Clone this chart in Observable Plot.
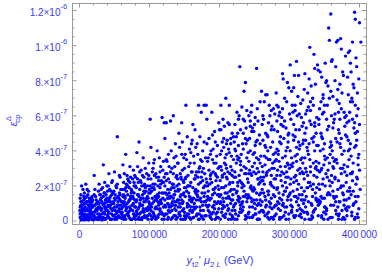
<!DOCTYPE html>
<html><head><meta charset="utf-8">
<script src="https://cdn.jsdelivr.net/npm/d3@7"></script>
<script src="https://cdn.jsdelivr.net/npm/@observablehq/plot@0.6"></script>
<style>body{margin:0;background:#fff}svg{display:block}</style>
</head><body><div id="c"></div><script>
// points: [x in thousands of GeV, y in units of 1e-8]
const band0 = [[1,2],[3,5],[2,9],[5,1],[6,12],[8,4],[4,7],[9,10],[11,2],[12,6],[10,14],[13,9],[15,3],[14,11],[16,7],[18,1],[17,13],[19,5],[7,16],[3,20],[1,13],[2,0.5],[6,3],[8,8],[10,0.8],[12,15],[14,1.5],[16,10],[18,8],[20,3],[5,18],[9,21],[13,17],[19,12],[0.5,6],[4,3],[7,10],[11,11],[15,6],[17,4],[20,9],[2,15],[6,7],[9,1],[12,3],[14,8],[16,2],[18,11],[3,11],[10,6],[1,8],[5,4],[8,13],[13,0.5],[15,12],[17,9],[19,1],[11,18],[4,0.8],[7,2]];
const band1 = [[21,3],[22,9],[23,14],[24,1],[25,6],[26,11],[27,17],[28,4],[29,8],[30,2],[31,13],[32,7],[33,19],[34,32],[35,5],[36,10],[37,1],[38,15],[39,8],[40,3],[21,26],[22,18],[24,12],[26,4],[27,0.8],[28,21],[29,15],[31,6],[32,11],[33,2],[34,9],[35,16],[36,4],[37,12],[38,1.5],[39,20],[23,6],[25,10],[27,8],[30,12],[32,0.5],[34,14],[36,22],[38,6],[40,11],[21,15],[24,7],[26,2],[29,3],[31,18],[33,10],[35,1],[37,7],[39,13],[22,5],[28,10],[30,7],[36,16],[40,17]];
const band2 = [[41,4],[42,12],[43,18],[44,1],[45,7],[46,15],[47,23],[48,3],[49,10],[50,28],[51,6],[52,13],[53,19],[54,48],[55,2],[56,9],[57,16],[58,25],[59,5],[60,11],[41,20],[42,2],[43,8],[44,14],[45,0.8],[46,22],[47,6],[48,11],[49,17],[50,1],[51,12],[52,4],[53,8],[54,21],[55,14],[56,3],[57,7],[58,12],[59,18],[60,1.5],[42,27],[44,9],[46,4],[48,16],[50,8],[52,20],[54,5],[56,13],[58,2],[60,7],[43,13],[45,17],[47,10],[49,3],[51,15],[53,1],[55,11],[57,26],[59,9],[41,9]];
const band3 = [[61,5],[62,14],[63,22],[64,2],[65,9],[66,38],[67,17],[68,26],[69,4],[70,11],[71,19],[72,31],[73,7],[74,13],[75,1],[76,24],[77,10],[78,16],[79,3],[80,20],[61,18],[62,8],[63,1],[64,27],[65,13],[66,6],[67,21],[68,10],[69,15],[70,3],[71,8],[72,12],[73,25],[74,0.8],[75,17],[76,6],[77,29],[78,2],[79,12],[80,8],[62,32],[64,11],[66,19],[68,4],[70,23],[72,6],[74,18],[76,14],[78,22],[80,1],[61,11],[63,15],[65,3],[67,8],[69,20],[71,2],[73,14],[75,9],[77,4],[79,26]];
const band4 = [[81,3],[82,12],[83,24],[84,7],[85,45],[86,18],[87,1],[88,29],[89,9],[90,15],[91,36],[92,5],[93,21],[94,11],[95,2],[96,27],[97,14],[98,8],[99,33],[100,4],[81,19],[82,6],[83,31],[84,15],[85,2],[86,10],[87,23],[88,13],[89,0.8],[90,26],[91,7],[92,17],[93,3],[94,30],[95,12],[96,6],[97,20],[98,1],[99,16],[100,10],[82,39],[84,22],[86,28],[88,5],[90,9],[92,25],[94,19],[96,13],[98,24],[100,18],[81,11],[83,4],[85,14],[87,9],[89,20],[91,13],[93,16],[95,7],[97,3],[99,11]];
const band5 = [[101,58],[102,6],[103,17],[104,28],[105,2],[106,11],[107,35],[108,21],[109,8],[110,14],[111,40],[112,3],[113,25],[114,10],[115,19],[116,31],[117,5],[118,59],[119,13],[120,22],[101,9],[102,24],[103,1],[104,13],[105,30],[106,4],[107,18],[108,7],[109,27],[110,2],[111,15],[112,20],[113,9],[114,36],[115,6],[116,12],[117,23],[118,1],[119,29],[120,8],[102,42],[104,19],[106,33],[108,14],[110,25],[112,11],[114,4],[116,21],[118,16],[120,34],[101,16],[103,8],[105,21],[107,3],[109,12],[111,7],[113,14],[115,28],[117,10],[119,4]];
const band6 = [[121,56],[122,12],[123,27],[124,56],[125,4],[126,18],[127,38],[128,9],[129,22],[130,57],[131,14],[132,30],[133,2],[134,60],[135,19],[136,7],[137,44],[138,25],[139,11],[140,33],[121,3],[122,20],[123,8],[124,35],[125,15],[126,1],[127,24],[128,16],[129,5],[130,28],[131,40],[132,10],[133,21],[134,13],[135,3],[136,31],[137,17],[138,6],[139,26],[140,12],[122,47],[124,23],[126,10],[128,31],[130,8],[132,19],[134,27],[136,15],[138,37],[140,2],[121,25],[123,16],[125,34],[127,6],[129,13],[131,1],[133,11],[135,36],[137,9],[139,20]];
const band7 = [[141,8],[142,21],[143,42],[144,3],[145,15],[146,56],[147,29],[148,11],[149,36],[150,5],[151,24],[152,66],[153,17],[154,48],[155,9],[156,31],[157,2],[158,20],[159,39],[160,13],[141,33],[142,4],[143,18],[144,27],[145,1],[146,12],[147,45],[148,23],[149,7],[150,30],[151,14],[152,2],[153,35],[154,10],[155,26],[156,16],[157,41],[158,6],[159,22],[160,28],[142,50],[144,14],[146,38],[148,1],[150,19],[152,25],[154,4],[156,9],[158,33],[160,44],[141,18],[143,10],[145,24],[147,6],[149,16],[151,38],[153,3],[155,20],[157,12],[159,8]];
const band8 = [[161,5],[162,19],[163,37],[164,10],[165,52],[166,26],[167,3],[168,44],[169,14],[170,66],[171,30],[172,8],[173,22],[174,62],[175,16],[176,40],[177,1],[178,66],[179,27],[180,11],[161,46],[162,2],[163,13],[164,33],[165,7],[166,18],[167,28],[168,4],[169,38],[170,21],[171,12],[172,48],[173,6],[174,25],[175,34],[176,9],[177,19],[178,14],[179,3],[180,36],[162,55],[164,24],[166,42],[168,15],[170,1],[172,31],[174,11],[176,23],[178,45],[180,20],[161,28],[163,8],[165,17],[167,12],[169,25],[171,4],[173,35],[175,2],[177,30],[179,16]];
const band9 = [[181,66],[182,12],[183,34],[184,6],[185,47],[186,21],[187,2],[188,40],[189,62],[190,15],[191,28],[192,9],[193,51],[194,19],[195,4],[196,37],[197,25],[198,11],[199,56],[200,31],[181,24],[182,44],[183,8],[184,17],[185,29],[186,3],[187,38],[188,13],[189,22],[190,49],[191,5],[192,33],[193,16],[194,1],[195,26],[196,10],[197,43],[198,20],[199,7],[200,14],[182,58],[184,36],[186,12],[188,27],[190,35],[192,18],[194,45],[196,2],[198,30],[200,52],[181,9],[183,20],[185,13],[187,24],[189,4],[191,41],[193,7],[195,33],[197,15],[199,18]];
const band10 = [[201,10],[202,66],[203,29],[204,45],[205,3],[206,19],[207,54],[208,36],[209,70],[210,13],[211,24],[212,6],[213,41],[214,66],[215,17],[216,31],[217,1],[218,50],[219,22],[220,8],[201,38],[202,15],[203,5],[204,25],[205,58],[206,11],[207,33],[208,2],[209,20],[210,44],[211,9],[212,28],[213,14],[214,39],[215,4],[216,47],[217,18],[218,26],[219,12],[220,35],[202,52],[204,7],[206,42],[208,16],[210,30],[212,56],[214,21],[216,10],[218,3],[220,48],[201,23],[203,40],[205,13],[207,8],[209,32],[211,46],[213,1],[215,27],[217,37],[219,15]];
const band11 = [[221,18],[222,55],[223,4],[224,33],[225,62],[226,12],[227,43],[228,26],[229,88],[230,7],[231,38],[232,65],[233,21],[234,50],[235,74],[236,14],[237,79],[238,30],[239,2],[240,46],[221,9],[222,28],[223,40],[224,16],[225,1],[226,35],[227,58],[228,11],[229,23],[230,52],[231,5],[232,19],[233,44],[234,8],[235,31],[236,57],[237,3],[238,15],[239,36],[240,24],[222,6],[224,48],[226,20],[228,60],[230,32],[232,10],[234,41],[236,27],[238,53],[240,13],[221,45],[223,25],[225,37],[227,14],[229,5],[231,22],[233,11],[235,17],[237,47],[239,63]];
const band12 = [[241,22],[242,60],[243,8],[244,40],[245,13],[246,66],[247,31],[248,3],[249,51],[250,18],[251,43],[252,27],[253,87],[254,9],[255,57],[256,35],[257,15],[258,68],[259,25],[260,74],[241,4],[242,34],[243,47],[244,19],[245,62],[246,11],[247,2],[248,38],[249,28],[250,55],[251,7],[252,45],[253,16],[254,30],[255,1],[256,21],[257,49],[258,12],[259,37],[260,6],[242,14],[244,54],[246,26],[248,17],[250,33],[252,4],[254,64],[256,10],[258,44],[260,23],[241,39],[243,29],[245,20],[247,53],[249,12],[251,59],[253,36],[255,24],[257,5],[259,16]];
const band13 = [[261,11],[262,46],[263,25],[264,68],[265,3],[266,72],[267,36],[268,72],[269,17],[270,56],[271,29],[272,8],[273,42],[274,63],[275,20],[276,33],[277,1],[278,52],[279,14],[280,39],[261,31],[262,6],[263,58],[264,21],[265,43],[266,12],[267,27],[268,4],[269,48],[270,15],[271,66],[272,35],[273,10],[274,26],[275,54],[276,2],[277,38],[278,19],[279,61],[280,9],[262,23],[264,37],[266,50],[268,28],[270,5],[272,60],[274,13],[276,45],[278,8],[280,24],[261,55],[263,16],[265,32],[267,9],[269,40],[271,1],[273,22],[275,30],[277,64],[279,34]];
const band14 = [[281,73],[282,18],[283,51],[284,7],[285,34],[286,62],[287,26],[288,44],[289,12],[290,84],[291,81],[292,3],[293,57],[294,22],[295,40],[296,68],[297,79],[298,14],[299,76],[300,30],[281,9],[282,41],[283,29],[284,65],[285,16],[286,2],[287,48],[288,23],[289,59],[290,36],[291,10],[292,27],[293,70],[294,5],[295,53],[296,19],[297,33],[298,45],[299,4],[300,61],[282,66],[284,38],[286,13],[288,55],[290,20],[292,47],[294,31],[296,8],[298,25],[300,15],[281,35],[283,11],[285,60],[287,6],[289,28],[291,54],[293,17],[295,1],[297,42],[299,50]];
const band15 = [[301,89],[302,24],[303,74],[304,8],[305,49],[306,76],[307,83],[308,37],[309,14],[310,91],[311,60],[312,29],[313,83],[314,3],[315,43],[316,67],[317,19],[318,54],[319,33],[320,10],[301,40],[302,58],[303,5],[304,31],[305,17],[306,46],[307,2],[308,63],[309,26],[310,11],[311,38],[312,71],[313,21],[314,52],[315,7],[316,35],[317,59],[318,15],[319,44],[320,27],[302,9],[304,66],[306,22],[308,48],[310,34],[312,13],[314,41],[316,4],[318,28],[320,56],[301,16],[303,36],[305,62],[307,25],[309,52],[311,6],[313,45],[315,30],[317,12],[319,69]];
const band16 = [[321,75],[322,12],[323,46],[324,28],[325,63],[326,4],[327,38],[328,81],[329,99],[330,20],[331,55],[332,9],[333,70],[334,33],[335,95],[336,87],[337,16],[338,50],[339,25],[340,89],[321,5],[322,36],[323,61],[324,14],[325,42],[326,73],[327,22],[328,1],[329,57],[330,31],[331,10],[332,47],[333,18],[334,66],[335,6],[336,40],[337,78],[338,13],[339,59],[340,29],[322,84],[324,53],[326,26],[328,44],[330,68],[332,3],[334,21],[336,56],[338,34],[340,11],[321,24],[323,8],[325,19],[327,65],[329,35],[331,77],[333,2],[335,48],[337,30],[339,43]];
const band17 = [[341,86],[342,33],[343,64],[344,11],[345,50],[346,82],[347,21],[348,72],[349,5],[350,44],[351,90],[352,27],[353,58],[354,15],[355,77],[356,110],[357,103],[358,38],[359,118],[360,91],[341,9],[342,55],[343,18],[344,40],[345,68],[346,3],[347,47],[348,24],[349,62],[350,13],[351,35],[352,79],[353,7],[354,52],[355,29],[356,16],[357,70],[358,2],[359,45],[360,60],[342,12],[344,85],[346,30],[348,41],[350,66],[352,4],[354,36],[356,54],[358,20],[360,26],[341,43],[343,28],[345,14],[347,61],[349,32],[351,8],[353,80],[355,1],[357,23],[359,74]];
const band18 = [[361,92],[362,17],[363,56],[364,34],[365,80],[366,6],[367,102],[368,45],[369,103],[370,23],[371,67],[372,11],[373,104],[374,98],[375,38],[376,85],[377,2],[378,62],[379,28],[380,49],[361,40],[362,71],[363,9],[364,58],[365,25],[366,88],[367,14],[368,33],[369,75],[370,52],[371,4],[372,44],[373,19],[374,64],[375,1],[376,30],[377,83],[378,12],[379,54],[380,7],[362,36],[364,13],[366,47],[368,69],[370,3],[372,78],[374,27],[376,16],[378,40],[380,94],[361,22],[363,30],[365,61],[367,35],[369,8],[371,50],[373,42],[375,73],[377,20],[379,59]];
const band19 = [[381,60],[382,26],[383,82],[384,96],[385,8],[386,97],[387,44],[388,15],[389,70],[390,102],[391,33],[392,53],[393,119],[394,115],[395,21],[396,88],[397,4],[398,64],[399,38],[400,113],[381,12],[382,48],[383,31],[384,72],[385,57],[386,19],[387,90],[388,37],[389,3],[390,58],[391,78],[392,10],[393,42],[394,66],[395,93],[396,25],[397,51],[398,14],[399,81],[400,29],[382,6],[384,40],[386,62],[388,85],[390,23],[392,76],[394,2],[396,46],[398,32],[400,55],[402,102],[401,18],[383,17],[385,35],[387,68],[389,27],[391,9],[393,56],[395,43],[397,73]];
// extra points in the dense lower strip
const lowLeft = [[1,4],[2,11],[3,1],[4,9],[5,6],[6,14],[7,0.5],[8,6],[9,3],[10,11],[11,7],[12,1],[13,4],[14,13],[15,9],[16,5],[17,1],[18,14],[19,8],[20,0.5],[22,2],[24,10],[26,7],[28,1],[30,15],[32,4],[34,2],[36,8],[38,11],[40,6],[42,5],[44,11],[46,1],[48,7],[50,13],[52,2],[54,9],[56,6],[58,15],[60,4]];
const lowMid = [[62,3],[64,18],[67,7],[69,24],[71,12],[73,1],[76,9],[78,20],[81,5],[83,15],[85,8],[88,22],[90,2],[92,11],[95,17],[97,6],[99,26],[102,3],[104,10],[106,19],[109,1],[111,13],[113,23],[115,7],[118,4],[120,16],[122,9],[125,27],[127,2],[129,14],[132,6],[134,21],[136,11],[138,1],[141,17],[143,5],[145,25],[147,10],[150,3],[152,19],[154,8],[157,14],[159,1],[63,10],[66,1],[70,5],[74,16],[77,13],[80,25],[84,1],[87,12],[91,6],[94,2],[98,13],[101,20],[105,5],[108,12],[112,2],[116,11],[119,22],[123,4],[126,13],[130,18],[133,9],[137,3],[140,24],[144,8],[148,15],[151,1],[155,20],[158,6],[65,14],[72,22],[79,8],[86,4],[93,20],[100,7],[107,26],[114,16],[121,1],[128,8],[135,15],[142,12],[149,22],[156,4],[160,11]];
const lowCenter = [[161,12],[163,2],[165,24],[167,8],[169,17],[171,1],[173,13],[175,28],[177,6],[179,20],[181,3],[183,14],[185,9],[187,26],[189,1],[191,18],[193,11],[195,23],[197,5],[199,15],[201,1],[203,19],[205,9],[207,27],[209,4],[211,16],[213,7],[215,22],[217,12],[219,2],[221,25],[223,10],[225,17],[227,3],[229,13],[231,29],[233,6],[235,20],[237,1],[239,11],[241,15],[243,2],[245,27],[247,8],[249,19],[251,4],[253,12],[255,24],[257,1],[259,9],[261,18],[263,5],[265,14],[267,26],[269,2],[271,11],[273,21],[275,7],[277,15],[279,3],[162,6],[166,16],[170,28],[174,3],[178,11],[182,22],[186,5],[190,8],[194,27],[198,2],[202,11],[206,3],[210,25],[214,13],[218,6],[222,1],[226,22],[230,9],[234,14],[238,27],[242,5],[246,18],[250,10],[254,1],[258,22],[262,28],[266,8],[270,17],[274,2],[278,24]];
const lowRight = [[281,4],[283,19],[285,10],[287,31],[289,2],[291,15],[293,8],[295,25],[297,12],[299,1],[301,21],[303,6],[305,33],[307,14],[309,3],[311,18],[313,9],[315,27],[317,2],[319,12],[321,17],[323,30],[325,5],[327,11],[329,22],[331,1],[333,14],[335,26],[337,7],[339,19],[341,3],[343,10],[345,29],[347,13],[349,1],[351,20],[353,6],[355,16],[357,33],[359,9],[361,2],[363,14],[365,24],[367,4],[369,18],[371,11],[373,30],[375,6],[377,15],[379,1],[381,22],[383,8],[385,13],[387,27],[389,5],[391,17],[393,1],[395,11],[397,24],[399,7],[282,26],[286,1],[290,9],[294,17],[298,32],[302,12],[306,3],[310,23],[314,15],[318,6],[322,1],[326,19],[330,28],[334,5],[338,12],[342,21],[346,2],[350,8],[354,25],[358,15],[362,31],[366,11],[370,1],[374,20],[378,9],[382,3],[386,17],[390,28],[394,14],[398,2]];
const midRight = [[202,31],[206,47],[210,38],[214,55],[218,29],[222,41],[226,50],[230,34],[234,58],[238,44],[242,27],[246,51],[250,39],[254,46],[258,33],[262,60],[266,42],[270,35],[274,52],[278,30],[282,57],[286,45],[290,64],[294,37],[298,49],[302,32],[306,55],[310,42],[314,61],[318,36],[322,50],[326,40],[330,63],[334,45],[338,31],[342,58],[346,48],[350,37],[354,66],[358,42],[362,53],[366,35],[370,62],[374,47],[378,32],[382,56],[386,41],[390,68],[394,50],[398,36],[204,26],[216,44],[228,36],[244,57],[256,28],[268,49],[284,40],[296,28],[308,66],[320,46],[336,54],[348,70],[360,43],[372,58],[384,46],[396,60]];

const xTickValues = [0, 100000, 200000, 300000, 400000];
const xTickLabels = ["0", "100\u2009000", "200\u2009000", "300\u2009000", "400\u2009000"];
const xMinorValues = [20000,40000,60000,80000,120000,140000,160000,180000,220000,240000,260000,280000,320000,340000,360000,380000];
const yTickValues = [0, 2e-7, 4e-7, 6e-7, 8e-7, 1e-6, 1.2e-6];
const yTickMantissas = ["0", "2.\u00d710", "4.\u00d710", "6.\u00d710", "8.\u00d710", "1.\u00d710", "1.2\u00d710"];
const yTickExponents = ["", "-7", "-7", "-7", "-7", "-6", "-6"];
const yMinorValues = [5e-8,1e-7,1.5e-7,2.5e-7,3e-7,3.5e-7,4.5e-7,5e-7,5.5e-7,6.5e-7,7e-7,7.5e-7,8.5e-7,9e-7,9.5e-7,1.05e-6,1.1e-6,1.15e-6];

const points = [].concat(band0,band1,band2,band3,band4,band5,band6,band7,band8,band9,band10,
  band11,band12,band13,band14,band15,band16,band17,band18,band19,
  lowLeft,lowMid,lowCenter,lowRight,midRight)
  .map(([xk, ye8]) => ({x: xk * 1000, y: ye8 * 1e-8}));

const W = 382, H = 273, mL = 72, mR = 16, mT = 3, mB = 49;
const pw = W - mL - mR, ph = H - mT - mB;
const frameColor = "#9a9a9a", labelColor = "#3a3aff";

const plot = Plot.plot({
  width: W, height: H,
  marginLeft: mL, marginRight: mR, marginTop: mT, marginBottom: mB,
  style: {background: "#fff", fontFamily: "Liberation Sans, Arial, sans-serif"},
  x: {domain: [-10000, 410000], axis: null},
  y: {domain: [-2.0e-8, 1.24e-6], axis: null},
  marks: [
    Plot.dot(points, {x: "x", y: "y", r: 1.7, fill: "#0000ff", stroke: null}),
    Plot.frame({stroke: frameColor, strokeWidth: 1}),
    Plot.ruleX(xTickValues, {x: d => d, insetTop: ph - 4.5, stroke: frameColor}),
    Plot.ruleX(xTickValues, {x: d => d, insetBottom: ph - 4.5, stroke: frameColor}),
    Plot.ruleX(xMinorValues, {x: d => d, insetTop: ph - 2.5, stroke: frameColor}),
    Plot.ruleX(xMinorValues, {x: d => d, insetBottom: ph - 2.5, stroke: frameColor}),
    Plot.ruleY(yTickValues, {y: d => d, insetRight: pw - 4.5, stroke: frameColor}),
    Plot.ruleY(yTickValues, {y: d => d, insetLeft: pw - 4.5, stroke: frameColor}),
    Plot.ruleY(yMinorValues, {y: d => d, insetRight: pw - 2.5, stroke: frameColor}),
    Plot.ruleY(yMinorValues, {y: d => d, insetLeft: pw - 2.5, stroke: frameColor}),
    Plot.text(xTickValues, {x: d => d, frameAnchor: "bottom", dy: 13, text: (d, i) => xTickLabels[i],
      fill: labelColor, fontSize: 10})
  ]
});

const svg = d3.select(plot);
const ys = plot.scale("y");
const g = svg.append("g").attr("font-family", "Liberation Sans, Arial, sans-serif").attr("fill", labelColor);
yTickValues.forEach((v, i) => {
  const py = ys.apply(v);
  const hasExp = yTickExponents[i] !== "";
  g.append("text").attr("text-anchor", "end").attr("font-size", 10)
    .attr("x", hasExp ? 60.5 : 68).attr("y", py + (hasExp ? 5.8 : 3.6)).text(yTickMantissas[i]);
  if (hasExp) {
    g.append("text").attr("text-anchor", "start").attr("font-size", 7.5)
      .attr("x", 60.5).attr("y", py - 0.8).text(yTickExponents[i]);
  }
});

// y axis label
const yl = svg.append("g").attr("transform", "translate(17,112) rotate(-90)")
  .attr("fill", labelColor).attr("font-family", "Liberation Sans, Arial, sans-serif");
yl.append("text").attr("x", -12).attr("y", 0).attr("font-size", 11).attr("font-style", "italic").text("\u03b5");
yl.append("text").attr("x", -6.5).attr("y", 3).attr("font-size", 8).text("cp");
yl.append("text").attr("x", -6.5).attr("y", -6.5).attr("font-size", 8).text("\u0394");

// x axis label
const xl = svg.append("text").attr("x", 220).attr("y", 264).attr("text-anchor", "middle")
  .attr("fill", labelColor).attr("font-family", "Liberation Sans, Arial, sans-serif").attr("font-size", 11);
xl.append("tspan").attr("font-style", "italic").text("y");
xl.append("tspan").attr("font-size", 8).attr("dy", 3).text("t2");
xl.append("tspan").attr("dy", -3).text("' ");
xl.append("tspan").attr("font-style", "italic").text("\u03bc");
xl.append("tspan").attr("font-size", 8).attr("dy", 3).text("2 ");
xl.append("tspan").attr("font-size", 8).attr("font-style", "italic").text("L");
xl.append("tspan").attr("dy", -3).text(" (GeV)");

document.getElementById("c").appendChild(plot);
</script></body></html>
